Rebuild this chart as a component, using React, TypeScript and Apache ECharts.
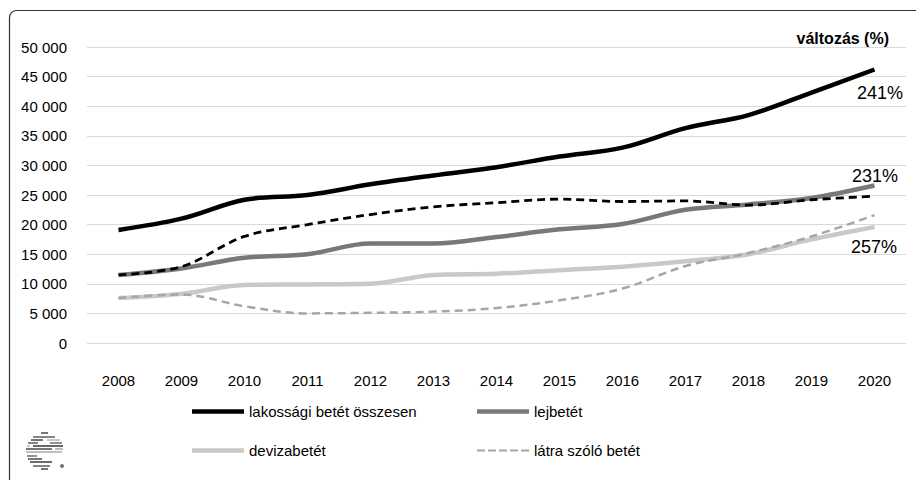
import React, { useEffect, useRef } from "react";
import * as echarts from "echarts";

const years = ["2008", "2009", "2010", "2011", "2012", "2013", "2014", "2015", "2016", "2017", "2018", "2019", "2020"];
const total = [19100, 21000, 24200, 25000, 26800, 28300, 29700, 31500, 33000, 36300, 38500, 42300, 46200];
const lekotott = [11500, 12900, 18000, 20000, 21700, 23000, 23700, 24300, 23900, 24000, 23300, 24200, 24800];
const lejbetet = [11500, 12600, 14400, 15000, 16800, 16800, 17900, 19200, 20100, 22500, 23400, 24500, 26600];
const deviza = [7600, 8300, 9800, 9900, 10000, 11500, 11700, 12300, 12900, 13800, 15000, 17500, 19600];
const latra = [7600, 8200, 6200, 5000, 5100, 5300, 5900, 7200, 9200, 13000, 15200, 18000, 21600];
const changeLabels = ["241%", "231%", "257%"];

const FONT = "'Liberation Sans', Arial, sans-serif";
const DASH_ICON = "path://M0 0h8v2H0zM11 0h8v2h-8zM22 0h8v2h-8zM33 0h8v2h-8zM44 0h8v2h-8z";

const logoLines: [number, number, number, string][] = [
  [433, 41, 48, "#555"],
  [437, 33, 55, "#666"],
  [440, 31, 43, "#555"],
  [440, 47, 60, "#bbb"],
  [443, 28, 38, "#666"],
  [443, 50, 62, "#777"],
  [446, 27, 30, "#bbb"],
  [446, 33, 63, "#444"],
  [449, 26, 52, "#555"],
  [449, 55, 63, "#aaa"],
  [452, 26, 62, "#aaa"],
  [456, 27, 37, "#777"],
  [459, 28, 42, "#555"],
  [462, 30, 52, "#444"],
  [466, 33, 50, "#666"],
  [469, 41, 48, "#555"],
];

export default function App() {
  const ref = useRef<HTMLDivElement>(null);
  useEffect(() => {
    if (!ref.current) return;
    const chart = echarts.init(ref.current, null, { renderer: "svg" });
    const fmt = (v: number) => String(v).replace(/\B(?=(\d{3})+(?!\d))/g, " ");
    const legendBase = {
      orient: "horizontal" as const,
      padding: 0,
      itemWidth: 52,
      itemGap: 0,
      textStyle: { fontFamily: FONT, fontSize: 15, color: "#000" },
    };
    chart.setOption({
      animation: false,
      backgroundColor: "#fff",
      grid: { left: 87, right: 10, top: 47, bottom: 137, containLabel: false },
      xAxis: {
        type: "category",
        data: years,
        boundaryGap: true,
        axisLine: { show: false },
        axisTick: { show: false },
        axisLabel: { fontFamily: FONT, fontSize: 15, color: "#000", margin: 30 },
      },
      yAxis: {
        type: "value",
        min: 0,
        max: 50000,
        interval: 5000,
        axisLine: { show: false },
        axisTick: { show: false },
        splitLine: { lineStyle: { color: "#d9d9d9", width: 1 } },
        axisLabel: { fontFamily: FONT, fontSize: 15, color: "#000", margin: 20, formatter: fmt },
      },
      legend: [
        { ...legendBase, icon: "rect", itemHeight: 4.5, data: ["lakossági betét összesen"], left: 192, top: 404 },
        { ...legendBase, icon: "rect", itemHeight: 4.5, data: ["lejbetét"], left: 477, top: 404 },
        { ...legendBase, icon: "rect", itemHeight: 4.5, data: ["devizabetét"], left: 192, top: 443 },
        { ...legendBase, icon: DASH_ICON, itemHeight: 2.6, data: ["látra szóló betét"], left: 477, top: 443 },
      ],
      series: [
        {
          name: "lekötött betét",
          type: "line",
          data: lekotott,
          smooth: 0.35,
          symbol: "none",
          lineStyle: { color: "#000", width: 2.8, type: [8, 5] },
          itemStyle: { color: "#000" },
          z: 3,
        },
        {
          name: "lejbetét",
          type: "line",
          data: lejbetet,
          smooth: 0.35,
          symbol: "none",
          lineStyle: { color: "#787878", width: 4.5 },
          itemStyle: { color: "#787878" },
          z: 2,
        },
        {
          name: "devizabetét",
          type: "line",
          data: deviza,
          smooth: 0.35,
          symbol: "none",
          lineStyle: { color: "#c9c9c9", width: 4.5 },
          itemStyle: { color: "#c9c9c9" },
          z: 2,
        },
        {
          name: "látra szóló betét",
          type: "line",
          data: latra,
          smooth: 0.35,
          symbol: "none",
          lineStyle: { color: "#a6a6a6", width: 2.5, type: [8, 5] },
          itemStyle: { color: "#a6a6a6" },
          z: 3,
        },
        {
          name: "lakossági betét összesen",
          type: "line",
          data: total,
          smooth: 0.35,
          symbol: "none",
          lineStyle: { color: "#000", width: 4.5 },
          itemStyle: { color: "#000" },
          z: 4,
        },
      ],
      graphic: [
        {
          type: "rect",
          shape: { x: 9.5, y: 10.5, width: 930, height: 500, r: 7 },
          style: { fill: "none", stroke: "#333", lineWidth: 1.2 },
          silent: true,
        },
        {
          type: "text",
          x: 889,
          y: 38,
          style: { text: "változás (%)", font: `bold 16px ${FONT}`, fill: "#000", align: "right", verticalAlign: "middle" },
        },
        {
          type: "text",
          x: 880,
          y: 93,
          style: { text: changeLabels[0], font: `18px ${FONT}`, fill: "#000", align: "center", verticalAlign: "middle" },
        },
        {
          type: "text",
          x: 875,
          y: 176,
          style: { text: changeLabels[1], font: `18px ${FONT}`, fill: "#000", align: "center", verticalAlign: "middle" },
        },
        {
          type: "text",
          x: 874,
          y: 247,
          style: { text: changeLabels[2], font: `18px ${FONT}`, fill: "#000", align: "center", verticalAlign: "middle" },
        },
        ...logoLines.map(([y, x1, x2, c]) => ({
          type: "line",
          shape: { x1, y1: y, x2, y2: y },
          style: { stroke: c, lineWidth: 1.6 },
          silent: true,
        })),
        {
          type: "circle",
          shape: { cx: 62, cy: 466, r: 2 },
          style: { fill: "#777" },
          silent: true,
        },
      ],
    });
    return () => chart.dispose();
  }, []);
  return <div ref={ref} style={{ position: "absolute", left: 0, top: 0, width: 916, height: 480 }} />;
}
